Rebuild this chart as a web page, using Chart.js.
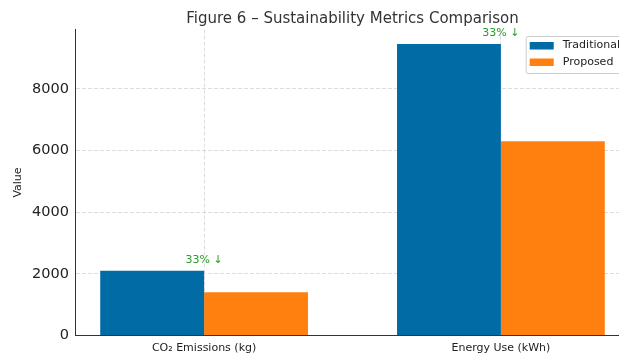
<!DOCTYPE html>
<html>
<head>
<meta charset="utf-8">
<title>Sustainability Metrics Comparison</title>
<script src="https://cdn.jsdelivr.net/npm/chart.js@4/dist/chart.umd.min.js"></script>
<style>
    html, body { margin: 0; padding: 0; background: #fff; overflow: hidden; }
    #metricsChart { display: block; }
</style>
</head>
<body>
<canvas id="metricsChart" width="640" height="353"></canvas>
<script>
    // Metric values per category
    const categories = ['CO\u2082 Emissions (kg)', 'Energy Use (kWh)'];
    const seriesNames = ['Traditional', 'Proposed'];
    const traditional = [2100, 9450];
    const proposed = [1400, 6300];
    const yTicks = [0, 2000, 4000, 6000, 8000];

    const seriesColors = ['#006BA4', '#FF800E'];
    const fontFamily = "'DejaVu Sans', sans-serif";

    // Reduction labels above each traditional bar
    const reductionLabels = {
        id: 'reductionLabels',
        afterDatasetsDraw(chart) {
            const ctx = chart.ctx;
            const x = chart.scales.x;
            const y = chart.scales.y;
            ctx.save();
            ctx.font = '11px ' + fontFamily;
            ctx.fillStyle = '#2a9a2a';
            ctx.textAlign = 'center';
            ctx.textBaseline = 'bottom';
            categories.forEach((c, i) => {
                const pct = Math.round((1 - proposed[i] / traditional[i]) * 100);
                ctx.fillText(pct + '% \u2193', x.getPixelForValue(i), y.getPixelForValue(traditional[i]) - 5);
            });
            ctx.restore();
        }
    };

    // Boxed legend in the upper right corner of the plot
    const boxLegend = {
        id: 'boxLegend',
        afterDraw(chart) {
            const ctx = chart.ctx;
            const area = chart.chartArea;
            const sets = chart.data.datasets;
            ctx.save();
            ctx.font = '11px ' + fontFamily;
            const textW = Math.max(...sets.map(d => ctx.measureText(d.label).width));
            const rowH = 16.5;
            const w = 4 + 24 + 9 + textW + 5;
            const h = sets.length * rowH + 4;
            const left = area.right - 5 - w;
            const top = area.top + 6.5;

            ctx.fillStyle = 'rgba(255,255,255,0.8)';
            ctx.strokeStyle = '#cccccc';
            ctx.lineWidth = 1;
            ctx.beginPath();
            ctx.roundRect(left + 0.5, top + 0.5, w, h, 2);
            ctx.fill();
            ctx.stroke();

            ctx.textAlign = 'left';
            ctx.textBaseline = 'middle';
            sets.forEach((d, i) => {
                const cy = top + 9.5 + i * rowH;
                ctx.fillStyle = d.backgroundColor;
                ctx.fillRect(left + 4, cy - 3.5, 24, 7.5);
                ctx.fillStyle = '#222';
                ctx.fillText(d.label, left + 37, cy);
            });
            ctx.restore();
        }
    };

    const ctx = document.getElementById('metricsChart').getContext('2d');
    new Chart(ctx, {
        type: 'bar',
        data: {
            datasets: [
                {
                    label: seriesNames[0],
                    data: traditional.map((v, i) => ({ x: i, y: v })),
                    backgroundColor: seriesColors[0]
                },
                {
                    label: seriesNames[1],
                    data: proposed.map((v, i) => ({ x: i, y: v })),
                    backgroundColor: seriesColors[1]
                }
            ]
        },
        options: {
            responsive: false,
            animation: false,
            devicePixelRatio: 1,
            layout: { padding: { left: 0, right: 10, top: 0, bottom: 0 } },
            datasets: {
                bar: { categoryPercentage: 0.7, barPercentage: 1.0 }
            },
            plugins: {
                legend: { display: false },
                tooltip: { enabled: false },
                title: {
                    display: true,
                    fullSize: false,
                    text: 'Figure 6 \u2013 Sustainability Metrics Comparison',
                    color: '#333',
                    font: { family: fontFamily, size: 15, weight: 'normal' },
                    padding: { top: 10, bottom: 1.5 }
                }
            },
            scales: {
                x: {
                    type: 'linear',
                    min: -0.435,
                    max: 1.435,
                    offset: false,
                    z: 1,
                    afterBuildTicks: (scale) => {
                        scale.ticks = categories.map((c, i) => ({ value: i }));
                    },
                    afterFit: (scale) => { scale.height = 17.5; },
                    ticks: {
                        autoSkip: false,
                        maxRotation: 0,
                        padding: 6,
                        color: '#222',
                        font: { family: fontFamily, size: 11 },
                        callback: (v) => categories[v]
                    },
                    grid: {
                        offset: false,
                        drawTicks: false,
                        color: 'rgba(170,170,170,0.5)',
                        lineWidth: 0.8
                    },
                    border: { display: true, color: '#333', width: 1, dash: [4, 2] }
                },
                y: {
                    min: 0,
                    max: Math.max(...traditional, ...proposed) * 1.05,
                    z: 1,
                    afterBuildTicks: (scale) => {
                        scale.ticks = yTicks.map(v => ({ value: v }));
                    },
                    afterFit: (scale) => { scale.width = 75; },
                    ticks: {
                        padding: 6,
                        color: '#222',
                        font: { family: fontFamily, size: 14.5 },
                        callback: (v) => String(v)
                    },
                    grid: {
                        drawTicks: false,
                        color: 'rgba(170,170,170,0.5)',
                        lineWidth: 0.8
                    },
                    border: { display: true, color: '#333', width: 1, dash: [4, 2] },
                    title: {
                        display: true,
                        text: 'Value',
                        color: '#222',
                        font: { family: fontFamily, size: 11 },
                        padding: { top: 12, bottom: 0 }
                    }
                }
            }
        },
        plugins: [reductionLabels, boxLegend]
    });
</script>
</body>
</html>
